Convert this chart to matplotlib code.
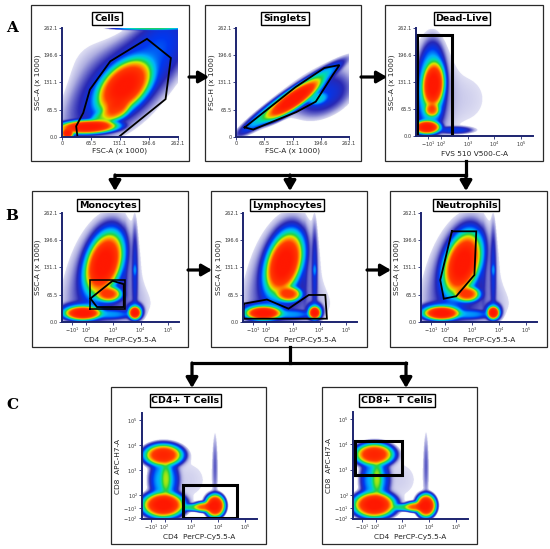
import numpy as np
import matplotlib
matplotlib.use("Agg")
import matplotlib.pyplot as plt
from matplotlib.colors import LinearSegmentedColormap
from matplotlib.patches import Rectangle, FancyArrowPatch, ArrowStyle
from matplotlib.lines import Line2D

W, H = 550, 549

# ---------------- data ----------------
# linear scatter axes, units of 1000
lin_ticks = [0, 65.5, 131.1, 196.6, 262.1]
lin_labels = ['0', '65.5', '131.1', '196.6', '262.1']
lin_labels_y = ['0.0', '65.5', '131.1', '196.6', '262.1']
# biexponential axes, expressed in "decade" units (10^2 -> 2, 10^3 -> 3 ...)
bi_ticks = [1.5, 2, 3, 4, 5]
bi_labels = [r'$-10^{1}$', r'$10^{2}$', r'$10^{3}$', r'$10^{4}$', r'$10^{5}$']
cd8_ticks = [1.08, 1.48, 2, 3, 4, 5]
cd8_labels = [r'$-10^{2}$', r'$-10^{1}$', r'$10^{2}$', r'$10^{3}$', r'$10^{4}$', r'$10^{5}$']

# populations: (x centre, y centre, x spread, y spread, correlation, weight)
cells_core = [(141, 122, 36, 38, 0.46, 1.0),
              (123, 66, 19, 16, 0.3, 0.32),
              (58, 24, 39, 9.5, 0.15, 1.0),
              (12, 8, 8, 7, 0.0, 0.9),
              (95, 45, 20, 14, 0.4, 0.12),
              (200, 261, 50, 2.0, 0.0, 0.1)]
cells_haze = [(140, 120, 52, 57, 0.5, 0.02),
              (150, 150, 80, 80, 0.8, 0.01),
              (225, 220, 35, 45, 0.3, 0.012),
              (70, 170, 50, 60, 0.0, 0.0015)]
cells_gate = [(35, 0), (32, 26), (48, 58), (63, 114), (109, 182), (192, 236),
              (246, 190), (234, 91), (128, 0)]

singlets_core = [(134, 90, 37.1, 28.1, 0.857, 1.0),
                 (128, 95, 65.2, 47.7, 0.959, 0.15),
                 (190, 92, 15, 10, 0.3, 0.05)]
singlets_haze = [(205, 100, 35, 28, 0.4, 0.015),
                 (140, 100, 80, 60, 0.9, 0.003)]
singlets_gate = [(20, 23), (138, 120), (205, 166), (240, 173), (225, 150),
                 (185, 85), (140, 60), (40, 18)]

deadlive_core = [(1.45, 21, 0.29, 9.5, 0.0, 1.0),
                 (1.70, 125, 0.24, 32, 0.1, 1.0),
                 (1.65, 63, 0.17, 10, 0.0, 0.35),
                 (1.62, 115, 0.32, 62, 0.1, 0.1),
                 (2.5, 14, 0.45, 6, 0.0, 0.015)]
deadlive_haze = [(1.6, 110, 0.42, 80, 0.0, 0.006),
                 (2.8, 90, 1.2, 80, 0.0, 0.0015)]
deadlive_gate = [(1.08, 0), (1.08, 244), (2.42, 244), (2.42, 0)]

leuko_core = [(2.65, 141, 0.40, 42, 0.35, 1.0),
              (2.60, 138, 0.48, 56, 0.35, 0.08),
              (2.82, 67, 0.28, 11, 0.0, 0.5),
              (1.88, 21, 0.38, 9.5, 0.0, 1.0),
              (1.85, 24, 0.52, 14, 0.0, 0.06),
              (3.79, 22, 0.13, 9, 0.0, 1.0),
              (3.79, 25, 0.20, 14, 0.0, 0.05),
              (3.79, 125, 0.05, 10, 0.0, 0.02),
              (2.90, 18, 0.50, 7, 0.0, 0.03)]
leuko_haze = [(2.6, 130, 0.6, 70, 0.3, 0.008),
              (3.79, 120, 0.06, 60, 0.0, 0.012),
              (3.42, 130, 0.05, 50, 0.0, 0.004),
              (2.6, 90, 0.8, 70, 0.2, 0.004),
              (3.0, 40, 1.2, 40, 0.0, 0.002)]
mono_gate = [(2.135, 32.3), (2.135, 100.8), (3.42, 100.8), (3.42, 32.3)]
mono_gate2 = [(2.16, 56.5), (2.97, 99), (3.38, 91), (3.38, 36), (2.40, 36)]
lymph_gate = [(1.145, 44), (2.02, 54), (2.83, 32), (3.59, 65), (4.21, 65),
              (4.27, 8), (1.145, 8)]
neut_gate = [(2.26, 218), (3.16, 218), (3.09, 113), (2.42, 62), (1.96, 56),
             (1.83, 101)]

tcell_core = [(1.95, 3.60, 0.40, 0.24, 0.0, 0.7),
              (1.95, 3.60, 0.48, 0.32, 0.0, 0.05),
              (1.95, 1.60, 0.43, 0.28, 0.0, 1.0),
              (1.95, 1.60, 0.52, 0.36, 0.0, 0.05),
              (1.98, 2.60, 0.33, 0.55, 0.0, 0.05),
              (2.05, 2.65, 0.13, 0.45, 0.0, 0.12),
              (3.88, 1.57, 0.21, 0.26, 0.0, 1.0),
              (3.50, 1.52, 0.25, 0.12, 0.0, 0.35),
              (3.10, 1.50, 0.35, 0.09, 0.0, 0.1)]
tcell_haze = [(3.88, 3.2, 0.06, 0.8, 0.0, 0.004),
              (2.8, 2.6, 1.0, 1.0, 0.0, 0.0015)]
cd4_gate = [(2.67, 1.07), (2.67, 2.42), (4.71, 2.42), (4.71, 1.07)]
cd8_gate = [(1.22, 2.80), (1.22, 4.13), (2.98, 4.13), (2.98, 2.80)]

# ---------------- layout (pixels: left, top, right, bottom) ----------------
lin = (0, 262.1)
panels = [
    dict(title='Cells', box=(31, 5, 189, 161), ax=(62, 28, 178, 137), tpos=(107, 18.5),
         xlim=lin, ylim=lin, xt=(lin_ticks, lin_labels), yt=(lin_ticks, lin_labels_y),
         xl='FSC-A (x 1000)', yl='SSC-A (x 1000)', core=cells_core, haze=cells_haze,
         gates=[(cells_gate, 1.3)]),
    dict(title='Singlets', box=(205, 5, 361, 161), ax=(236, 28, 349, 137), tpos=(285, 18.5),
         xlim=lin, ylim=lin, xt=(lin_ticks, lin_labels), yt=(lin_ticks, lin_labels),
         xl='FSC-A (x 1000)', yl='FSC-H (x 1000)', core=singlets_core, haze=singlets_haze,
         gates=[(singlets_gate, 1.3)]),
    dict(title='Dead-Live', box=(385, 5, 543, 161), ax=(416, 28, 533, 136), tpos=(462, 18.5),
         xlim=(1.05, 5.45), ylim=lin, xt=(bi_ticks, bi_labels), yt=(lin_ticks, lin_labels_y),
         xl='FVS 510 V500-C-A', yl='SSC-A (x 1000)', core=deadlive_core, haze=deadlive_haze,
         gates=[(deadlive_gate, 2.2)]),
    dict(title='Monocytes', box=(32, 191, 188, 347), ax=(62, 213, 179, 322), tpos=(108, 205),
         xlim=(1.12, 5.4), ylim=lin, xt=(bi_ticks, bi_labels), yt=(lin_ticks, lin_labels_y),
         xl='CD4  PerCP-Cy5.5-A', yl='SSC-A (x 1000)', core=leuko_core, haze=leuko_haze,
         gates=[(mono_gate, 1.1), (mono_gate2, 1.3)]),
    dict(title='Lymphocytes', box=(211, 191, 367, 347), ax=(243, 213, 357, 322), tpos=(287, 205),
         xlim=(1.12, 5.4), ylim=lin, xt=(bi_ticks, bi_labels), yt=(lin_ticks, lin_labels_y),
         xl='CD4  PerCP-Cy5.5-A', yl='SSC-A (x 1000)', core=leuko_core, haze=leuko_haze,
         gates=[(lymph_gate, 1.3)]),
    dict(title='Neutrophils', box=(390, 191, 547, 347), ax=(421, 213, 537, 322), tpos=(466, 205),
         xlim=(1.12, 5.4), ylim=lin, xt=(bi_ticks, bi_labels), yt=(lin_ticks, lin_labels_y),
         xl='CD4  PerCP-Cy5.5-A', yl='SSC-A (x 1000)', core=leuko_core, haze=leuko_haze,
         gates=[(neut_gate, 1.3)]),
    dict(title='CD4+ T Cells', box=(111, 387, 266, 544), ax=(142, 413, 257, 519), tpos=(185.5, 400.5),
         xlim=(1.16, 5.44), ylim=(1.04, 5.28), xt=(bi_ticks, bi_labels), yt=(cd8_ticks, cd8_labels),
         xl='CD4  PerCP-Cy5.5-A', yl='CD8  APC-H7-A', core=tcell_core, haze=tcell_haze,
         gates=[(cd4_gate, 2.2)]),
    dict(title='CD8+  T Cells', box=(322, 387, 477, 544), ax=(353, 412, 468, 519), tpos=(397, 400.5),
         xlim=(1.16, 5.44), ylim=(1.04, 5.28), xt=(bi_ticks, bi_labels), yt=(cd8_ticks, cd8_labels),
         xl='CD4  PerCP-Cy5.5-A', yl='CD8  APC-H7-A', core=tcell_core, haze=tcell_haze,
         gates=[(cd8_gate, 2.2)]),
]

flow_cmap = LinearSegmentedColormap.from_list('flow', [
    (0.0, '#f0f0fa'), (0.12, '#aeaee0'), (0.28, '#2828b4'), (0.42, '#0038f0'),
    (0.54, '#00b0ff'), (0.63, '#00dcb0'), (0.70, '#28d040'), (0.76, '#d4f000'),
    (0.82, '#ff9a00'), (0.89, '#ff3c00'), (1.0, '#ff1800')])
flow_cmap.set_bad((1, 1, 1, 0))
NAVY = '#1c2470'


def fig_rect(l, t, r, b):
    return [l / W, 1 - b / H, (r - l) / W, (b - t) / H]


def fpt(x, y):
    return (x / W, 1 - y / H)


def blob_sum(X, Y, blobs, p):
    d = np.zeros_like(X)
    for cx, cy, sx, sy, rho, w in blobs:
        dx = (X - cx) / sx
        dy = (Y - cy) / sy
        r2 = (dx * dx - 2 * rho * dx * dy + dy * dy) / (1 - rho * rho)
        d += w * np.exp(-0.5 * r2 ** p)
    return d


fig = plt.figure(figsize=(W / 100, H / 100), dpi=100)

for p in panels:
    # panel frame
    l, t, r, b = p['box']
    fig.add_artist(Rectangle(fpt(l, b), (r - l) / W, (b - t) / H, transform=fig.transFigure,
                             fill=False, ec='#2a2a2a', lw=0.9))
    ax = fig.add_axes(fig_rect(*p['ax']))
    xs = np.linspace(p['xlim'][0], p['xlim'][1], 320)
    ys = np.linspace(p['ylim'][0], p['ylim'][1], 320)
    X, Y = np.meshgrid(xs, ys)
    d = blob_sum(X, Y, p['core'], 1.5) + blob_sum(X, Y, p['haze'], 1.0)
    tt = (np.log10(np.clip(d, 1e-12, 1.0)) + 3.0) / 3.0
    tt = np.ma.masked_less(tt, 0.03)
    ax.imshow(tt, origin='lower', extent=[*p['xlim'], *p['ylim']], aspect='auto',
              cmap=flow_cmap, vmin=0, vmax=1, interpolation='bilinear')
    for poly, lw in p['gates']:
        pts = np.array(poly + [poly[0]])
        ax.plot(pts[:, 0], pts[:, 1], color='black', lw=lw, solid_joinstyle='miter')
    ax.set_xlim(p['xlim'])
    ax.set_ylim(p['ylim'])
    ax.set_xticks(p['xt'][0])
    ax.set_xticklabels(p['xt'][1])
    ax.set_yticks(p['yt'][0])
    ax.set_yticklabels(p['yt'][1])
    for s in ['top', 'right']:
        ax.spines[s].set_visible(False)
    for s in ['left', 'bottom']:
        ax.spines[s].set_color(NAVY)
        ax.spines[s].set_linewidth(1.4)
    ax.tick_params(length=2, width=0.6, color=NAVY, labelsize=3.6, pad=1, labelcolor='#333333')
    ax.set_xlabel(p['xl'], fontsize=5.3, labelpad=1.2, color='#222222')
    ax.set_ylabel(p['yl'], fontsize=5.3, labelpad=1.5, color='#222222')
    ax.set_facecolor('white')
    tx, ty = fpt(*p['tpos'])
    fig.text(tx, ty, p['title'], ha='center', va='center', fontsize=6.8, fontweight='bold',
             bbox=dict(boxstyle='square,pad=0.2', fc='white', ec='black', lw=1.0))

# letters
for letter, (x, y) in [('A', (12, 27.5)), ('B', (12, 216)), ('C', (12, 405))]:
    fx, fy = fpt(x, y)
    fig.text(fx, fy, letter, ha='center', va='center', fontsize=11, fontweight='bold',
             family='DejaVu Serif')

# connectors
LW = 2.3
style = ArrowStyle('-|>', head_length=0.6, head_width=0.35)


def arrow(x0, y0, x1, y1):
    fig.add_artist(FancyArrowPatch(fpt(x0, y0), fpt(x1, y1), transform=fig.transFigure,
                                   arrowstyle=style, mutation_scale=10, lw=LW, color='black',
                                   shrinkA=0, shrinkB=0))


def line(xs, ys):
    fig.add_artist(Line2D([x / W for x in xs], [1 - y / H for y in ys], transform=fig.transFigure,
                          lw=LW, color='black', solid_capstyle='projecting'))


arrow(189, 77, 209, 77)
arrow(361, 77, 387, 77)
line([466, 466], [161, 175])
line([115, 466], [175, 175])
for x in [115, 290, 466]:
    arrow(x, 175, x, 191)
arrow(188, 270, 212, 270)
arrow(367, 270, 391, 270)
line([290, 290], [347, 363])
line([192, 406], [363, 363])
for x in [192, 406]:
    arrow(x, 363, x, 388)

fig.savefig('out.png', dpi=100)
